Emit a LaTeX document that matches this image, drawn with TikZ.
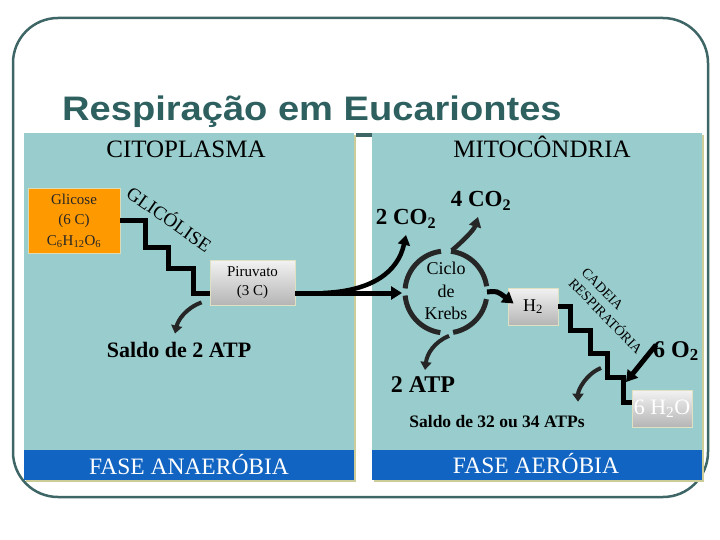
\documentclass[tikz,border=0pt]{standalone}
\usepackage{fontspec}
\setmainfont{Liberation Serif}
\newfontfamily\titlefont{Liberation Sans}
\usetikzlibrary{arrows.meta,calc}
\definecolor{panelc}{HTML}{99CCCC}
\definecolor{bandc}{HTML}{1164C1}
\definecolor{framec}{HTML}{3E6666}
\definecolor{titlec}{HTML}{2F6060}
\definecolor{beigec}{HTML}{CCCC99}
\definecolor{orngc}{HTML}{FF9900}
\newcommand{\fsz}[2]{\fontsize{#1}{#2}\selectfont}
\begin{document}
\begin{tikzpicture}[x=1pt,y=-1pt,
  lbl/.style={inner sep=0pt, anchor=base},
  graybox/.style={top color=gray!10, bottom color=gray!58, draw=beigec!60, line width=0.8pt, inner sep=0pt},
  stair/.style={line width=5pt, black, line join=miter},
  bigarrow/.style={line width=5pt, black, -{Triangle[length=11pt,width=13pt]}},
  curvarrow/.style={line width=4pt, black!85, -{Triangle[length=8pt,width=11pt]}},
  krebsarc/.style={line width=5pt, black!85},
]
\useasboundingbox (0,0) rectangle (720,540);
% outer frame
\draw[framec, line width=2.5pt, rounded corners=45pt] (13,18) rectangle (708,497);
% title
\node[lbl, anchor=base west, font=\titlefont\fsz{34}{40}\bfseries, text=titlec, xscale=1.12] (title) at (62,121) {Respiração em Eucariontes};
% panels
\fill[beigec] (26,135) rectangle (356,482);
\fill[panelc] (24,133) rectangle (354,450);
\fill[bandc] (24,450) rectangle (354,480);
\fill[beigec] (374,135) rectangle (704,482);
\fill[panelc] (372,133) rectangle (702,450);
\fill[bandc] (372,450) rectangle (702,480);
\fill[framec] (356,133) rectangle (372,137);
% headings
\node[lbl, font=\fsz{25}{28}] (cito) at (186,158) {CITOPLASMA};
\node[lbl, font=\fsz{25}{28}] (mito) at (542,158) {MITOCÔNDRIA};
\node[lbl, font=\fsz{23.5}{26}, text=white] (anae) at (189,474) {FASE ANAERÓBIA};
\node[lbl, font=\fsz{23.5}{26}, text=white] (aero) at (536,473) {FASE AERÓBIA};
% boxes
\node[fill=orngc, draw=beigec!70, line width=0.8pt, minimum width=92pt, minimum height=65pt, inner sep=0pt, align=center, font=\fsz{15}{20.5}, text=black!85] (gli) at (74,220.5) {Glicose\\(6 C)\\C\textsubscript{6}H\textsubscript{12}O\textsubscript{6}};
\node[graybox, minimum width=85pt, minimum height=45pt, align=center, font=\fsz{15}{19.5}] (pir) at (252.5,282.5) {Piruvato\\(3 C)};
\node[graybox, minimum width=50pt, minimum height=37pt, font=\fsz{18}{20}] (h2) at (533,306.5) {H\textsubscript{2}};
\node[graybox, minimum width=60pt, minimum height=37pt, font=\fsz{22}{24}, text=white] (h2o) at (662,408.5) {6 H\textsubscript{2}O};
% rotated labels
\node[inner sep=0pt, font=\fsz{19}{21}, rotate=-35] (glic) at (170,218) {GLICÓLISE};
\node[inner sep=0pt, font=\fsz{14}{16}, rotate=-46] (cad) at (602.5,289) {CADEIA};
\node[inner sep=0pt, font=\fsz{14}{16}, rotate=-46] (resp) at (606.5,315.5) {RESPIRATÓRIA};
% other labels
\node[lbl, font=\fsz{22}{26}\bfseries] (saldo2) at (179,357) {Saldo de 2 ATP};
\node[lbl, font=\fsz{23}{26}\bfseries] (co2a) at (406,225) {2 CO\textsubscript{2}};
\node[lbl, font=\fsz{23}{26}\bfseries] (co2b) at (481,207) {4 CO\textsubscript{2}};
\node[lbl, font=\fsz{24}{26}\bfseries] (atp2) at (423,392) {2 ATP};
\node[lbl, font=\fsz{17.5}{20}\bfseries] (saldo32) at (497,427) {Saldo de 32 ou 34 ATPs};
\node[lbl, font=\fsz{24}{26}\bfseries] (o2) at (676,357) {6 O\textsubscript{2}};
% Krebs cycle
\node[inner sep=0pt, align=center, font=\fsz{18}{22.5}] (krebs) at (446,291) {Ciclo\\de\\Krebs};
\coordinate (kc) at (446,292);
\draw[krebsarc] ($(kc)+(185:41)$) arc[start angle=185, end angle=263, radius=41];
\draw[krebsarc] ($(kc)+(277:41)$) arc[start angle=277, end angle=352, radius=41];
\draw[krebsarc] ($(kc)+(10:41)$) arc[start angle=10, end angle=80, radius=41];
\draw[krebsarc] ($(kc)+(98:41)$) arc[start angle=98, end angle=175, radius=41];
% stairs
\coordinate (pirL) at ($(pir.west)+(0,10.5)$);
\coordinate (pirR) at ($(pir.east)+(0,10.5)$);
\draw[stair] (gli.east) -- ++(25,0) -- ++(0,26.5) -- ++(23,0) -- ++(0,21) -- ++(25,0) |- (pirL);
\coordinate (h2oL) at ($(h2o.west)+(0,-6.5)$);
\draw[stair] (h2.east) -- ++(12,0) -- ++(0,23.5) -- ++(20,0) -- ++(0,23) -- ++(17,0) -- ++(0,24) -- ++(16,0) |- (h2oL);
% arrows
\coordinate (kin) at ($(kc)+(-44,1)$);
\draw[bigarrow] (pirR) -- (kin);
\draw[line width=4.5pt, black, -{Triangle[length=10pt,width=12pt]}] ($(pirR)+(28,0)$) .. controls (372,291) and (398,272) .. ($(co2a.south)+(0,6)$);
\draw[line width=4.5pt, black!85, -{Triangle[length=10pt,width=12pt]}] ($(kc)+(278:42)$) .. controls (462,242) and (474,230) .. ($(co2b.south)+(-3,6)$);
\draw[bigarrow] ($(kc)+(0:41)$) .. controls (497,291) .. ($(h2.west)+(6,-3)$);
\draw[curvarrow] ($(kc)+(86:44)$) .. controls (434,342) and (427,354) .. ($(atp2.north)+(2,-6)$);
\draw[curvarrow] ($(pir.south west)+(-8,-3)$) .. controls (186,308) and (178,320) .. ($(saldo2.north)+(-4,-8)$);
\coordinate (stairA) at (601,368);
\draw[curvarrow] (stairA) .. controls (586,374) and (578,390) .. ($(saldo32.north)+(81,-13)$);
\coordinate (o2tip) at (626,382);
\draw[bigarrow] ($(o2.west)+(3,-6)$) -- (o2tip);
\end{tikzpicture}
\end{document}
